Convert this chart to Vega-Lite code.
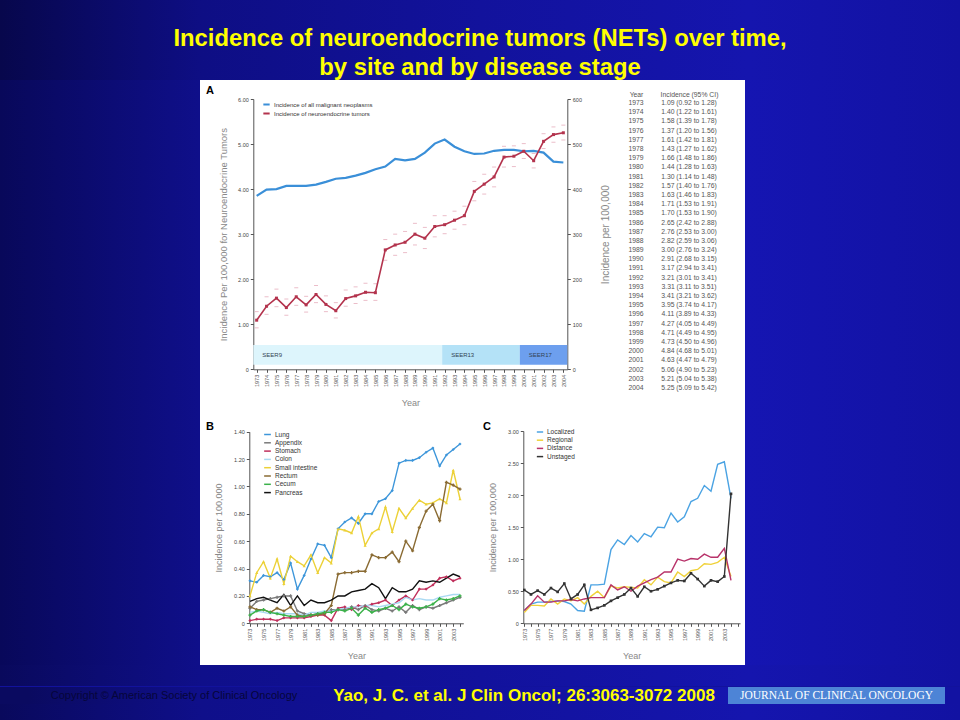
{
"$schema":"https://vega.github.io/schema/vega-lite/v6.json",
"background":"#12129c",
"padding":0,
"config":{"view":{"stroke":null},"font":"Liberation Sans","axis":{"zindex":1,"grid":false,"labelOverlap":false,"labelFlush":false,"domainColor":"#555","tickColor":"#555","labelColor":"#444","titleColor":"#888","titleFontWeight":"normal","labelFont":"Liberation Sans","titleFont":"Liberation Sans"},"legend":{"labelFont":"Liberation Sans","padding":0}},
"datasets":{
"neta":[
{"year":1973,"net":1.09,"lo":0.92,"hi":1.28,"all":385,"ci":"1.09 (0.92 to 1.28)"},
{"year":1974,"net":1.40,"lo":1.22,"hi":1.61,"all":399,"ci":"1.40 (1.22 to 1.61)"},
{"year":1975,"net":1.58,"lo":1.39,"hi":1.78,"all":400,"ci":"1.58 (1.39 to 1.78)"},
{"year":1976,"net":1.37,"lo":1.20,"hi":1.56,"all":407,"ci":"1.37 (1.20 to 1.56)"},
{"year":1977,"net":1.61,"lo":1.42,"hi":1.81,"all":407,"ci":"1.61 (1.42 to 1.81)"},
{"year":1978,"net":1.43,"lo":1.27,"hi":1.62,"all":407,"ci":"1.43 (1.27 to 1.62)"},
{"year":1979,"net":1.66,"lo":1.48,"hi":1.86,"all":410,"ci":"1.66 (1.48 to 1.86)"},
{"year":1980,"net":1.44,"lo":1.28,"hi":1.63,"all":416,"ci":"1.44 (1.28 to 1.63)"},
{"year":1981,"net":1.30,"lo":1.14,"hi":1.48,"all":423,"ci":"1.30 (1.14 to 1.48)"},
{"year":1982,"net":1.57,"lo":1.40,"hi":1.76,"all":425,"ci":"1.57 (1.40 to 1.76)"},
{"year":1983,"net":1.63,"lo":1.46,"hi":1.83,"all":430,"ci":"1.63 (1.46 to 1.83)"},
{"year":1984,"net":1.71,"lo":1.53,"hi":1.91,"all":436,"ci":"1.71 (1.53 to 1.91)"},
{"year":1985,"net":1.70,"lo":1.53,"hi":1.90,"all":444,"ci":"1.70 (1.53 to 1.90)"},
{"year":1986,"net":2.65,"lo":2.42,"hi":2.88,"all":450,"ci":"2.65 (2.42 to 2.88)"},
{"year":1987,"net":2.76,"lo":2.53,"hi":3.00,"all":467,"ci":"2.76 (2.53 to 3.00)"},
{"year":1988,"net":2.82,"lo":2.59,"hi":3.06,"all":464,"ci":"2.82 (2.59 to 3.06)"},
{"year":1989,"net":3.00,"lo":2.76,"hi":3.24,"all":467,"ci":"3.00 (2.76 to 3.24)"},
{"year":1990,"net":2.91,"lo":2.68,"hi":3.15,"all":481,"ci":"2.91 (2.68 to 3.15)"},
{"year":1991,"net":3.17,"lo":2.94,"hi":3.41,"all":501,"ci":"3.17 (2.94 to 3.41)"},
{"year":1992,"net":3.21,"lo":3.01,"hi":3.41,"all":510,"ci":"3.21 (3.01 to 3.41)"},
{"year":1993,"net":3.31,"lo":3.11,"hi":3.51,"all":494,"ci":"3.31 (3.11 to 3.51)"},
{"year":1994,"net":3.41,"lo":3.21,"hi":3.62,"all":484,"ci":"3.41 (3.21 to 3.62)"},
{"year":1995,"net":3.95,"lo":3.74,"hi":4.17,"all":478,"ci":"3.95 (3.74 to 4.17)"},
{"year":1996,"net":4.11,"lo":3.89,"hi":4.33,"all":479,"ci":"4.11 (3.89 to 4.33)"},
{"year":1997,"net":4.27,"lo":4.05,"hi":4.49,"all":485,"ci":"4.27 (4.05 to 4.49)"},
{"year":1998,"net":4.71,"lo":4.49,"hi":4.95,"all":487,"ci":"4.71 (4.49 to 4.95)"},
{"year":1999,"net":4.73,"lo":4.50,"hi":4.96,"all":487,"ci":"4.73 (4.50 to 4.96)"},
{"year":2000,"net":4.84,"lo":4.68,"hi":5.01,"all":484,"ci":"4.84 (4.68 to 5.01)"},
{"year":2001,"net":4.63,"lo":4.47,"hi":4.79,"all":485,"ci":"4.63 (4.47 to 4.79)"},
{"year":2002,"net":5.06,"lo":4.90,"hi":5.23,"all":481,"ci":"5.06 (4.90 to 5.23)"},
{"year":2003,"net":5.21,"lo":5.04,"hi":5.38,"all":461,"ci":"5.21 (5.04 to 5.38)"},
{"year":2004,"net":5.25,"lo":5.09,"hi":5.42,"all":459,"ci":"5.25 (5.09 to 5.42)"}
],
"seer":[
{"name":"SEER9","start":1972.66,"end":1991.75},
{"name":"SEER13","start":1991.75,"end":1999.6},
{"name":"SEER17","start":1999.6,"end":2004.4}
],
"sites":[
{"site":"Lung","year":1973,"rate":0.31},{"site":"Lung","year":1974,"rate":0.30},{"site":"Lung","year":1975,"rate":0.35},{"site":"Lung","year":1976,"rate":0.34},{"site":"Lung","year":1977,"rate":0.37},{"site":"Lung","year":1978,"rate":0.32},{"site":"Lung","year":1979,"rate":0.44},{"site":"Lung","year":1980,"rate":0.25},{"site":"Lung","year":1981,"rate":0.35},{"site":"Lung","year":1982,"rate":0.47},{"site":"Lung","year":1983,"rate":0.58},{"site":"Lung","year":1984,"rate":0.57},{"site":"Lung","year":1985,"rate":0.48},{"site":"Lung","year":1986,"rate":0.69},{"site":"Lung","year":1987,"rate":0.74},{"site":"Lung","year":1988,"rate":0.77},{"site":"Lung","year":1989,"rate":0.73},{"site":"Lung","year":1990,"rate":0.80},{"site":"Lung","year":1991,"rate":0.80},{"site":"Lung","year":1992,"rate":0.89},{"site":"Lung","year":1993,"rate":0.91},{"site":"Lung","year":1994,"rate":0.97},{"site":"Lung","year":1995,"rate":1.17},{"site":"Lung","year":1996,"rate":1.19},{"site":"Lung","year":1997,"rate":1.19},{"site":"Lung","year":1998,"rate":1.21},{"site":"Lung","year":1999,"rate":1.25},{"site":"Lung","year":2000,"rate":1.28},{"site":"Lung","year":2001,"rate":1.15},{"site":"Lung","year":2002,"rate":1.23},{"site":"Lung","year":2003,"rate":1.27},{"site":"Lung","year":2004,"rate":1.31},
{"site":"Appendix","year":1973,"rate":0.11},{"site":"Appendix","year":1974,"rate":0.16},{"site":"Appendix","year":1975,"rate":0.17},{"site":"Appendix","year":1976,"rate":0.18},{"site":"Appendix","year":1977,"rate":0.19},{"site":"Appendix","year":1978,"rate":0.20},{"site":"Appendix","year":1979,"rate":0.20},{"site":"Appendix","year":1980,"rate":0.09},{"site":"Appendix","year":1981,"rate":0.07},{"site":"Appendix","year":1982,"rate":0.06},{"site":"Appendix","year":1983,"rate":0.07},{"site":"Appendix","year":1984,"rate":0.07},{"site":"Appendix","year":1985,"rate":0.10},{"site":"Appendix","year":1986,"rate":0.10},{"site":"Appendix","year":1987,"rate":0.10},{"site":"Appendix","year":1988,"rate":0.12},{"site":"Appendix","year":1989,"rate":0.10},{"site":"Appendix","year":1990,"rate":0.13},{"site":"Appendix","year":1991,"rate":0.10},{"site":"Appendix","year":1992,"rate":0.09},{"site":"Appendix","year":1993,"rate":0.11},{"site":"Appendix","year":1994,"rate":0.09},{"site":"Appendix","year":1995,"rate":0.12},{"site":"Appendix","year":1996,"rate":0.08},{"site":"Appendix","year":1997,"rate":0.13},{"site":"Appendix","year":1998,"rate":0.10},{"site":"Appendix","year":1999,"rate":0.12},{"site":"Appendix","year":2000,"rate":0.11},{"site":"Appendix","year":2001,"rate":0.13},{"site":"Appendix","year":2002,"rate":0.15},{"site":"Appendix","year":2003,"rate":0.17},{"site":"Appendix","year":2004,"rate":0.19},
{"site":"Stomach","year":1973,"rate":0.02},{"site":"Stomach","year":1974,"rate":0.03},{"site":"Stomach","year":1975,"rate":0.03},{"site":"Stomach","year":1976,"rate":0.03},{"site":"Stomach","year":1977,"rate":0.02},{"site":"Stomach","year":1978,"rate":0.04},{"site":"Stomach","year":1979,"rate":0.04},{"site":"Stomach","year":1980,"rate":0.04},{"site":"Stomach","year":1981,"rate":0.04},{"site":"Stomach","year":1982,"rate":0.05},{"site":"Stomach","year":1983,"rate":0.06},{"site":"Stomach","year":1984,"rate":0.06},{"site":"Stomach","year":1985,"rate":0.02},{"site":"Stomach","year":1986,"rate":0.11},{"site":"Stomach","year":1987,"rate":0.12},{"site":"Stomach","year":1988,"rate":0.10},{"site":"Stomach","year":1989,"rate":0.13},{"site":"Stomach","year":1990,"rate":0.12},{"site":"Stomach","year":1991,"rate":0.14},{"site":"Stomach","year":1992,"rate":0.15},{"site":"Stomach","year":1993,"rate":0.17},{"site":"Stomach","year":1994,"rate":0.13},{"site":"Stomach","year":1995,"rate":0.17},{"site":"Stomach","year":1996,"rate":0.20},{"site":"Stomach","year":1997,"rate":0.17},{"site":"Stomach","year":1998,"rate":0.25},{"site":"Stomach","year":1999,"rate":0.25},{"site":"Stomach","year":2000,"rate":0.28},{"site":"Stomach","year":2001,"rate":0.33},{"site":"Stomach","year":2002,"rate":0.34},{"site":"Stomach","year":2003,"rate":0.31},{"site":"Stomach","year":2004,"rate":0.33},
{"site":"Colon","year":1973,"rate":0.08},{"site":"Colon","year":1974,"rate":0.09},{"site":"Colon","year":1975,"rate":0.08},{"site":"Colon","year":1976,"rate":0.07},{"site":"Colon","year":1977,"rate":0.08},{"site":"Colon","year":1978,"rate":0.07},{"site":"Colon","year":1979,"rate":0.07},{"site":"Colon","year":1980,"rate":0.07},{"site":"Colon","year":1981,"rate":0.06},{"site":"Colon","year":1982,"rate":0.08},{"site":"Colon","year":1983,"rate":0.08},{"site":"Colon","year":1984,"rate":0.09},{"site":"Colon","year":1985,"rate":0.09},{"site":"Colon","year":1986,"rate":0.10},{"site":"Colon","year":1987,"rate":0.11},{"site":"Colon","year":1988,"rate":0.12},{"site":"Colon","year":1989,"rate":0.12},{"site":"Colon","year":1990,"rate":0.13},{"site":"Colon","year":1991,"rate":0.13},{"site":"Colon","year":1992,"rate":0.12},{"site":"Colon","year":1993,"rate":0.13},{"site":"Colon","year":1994,"rate":0.14},{"site":"Colon","year":1995,"rate":0.15},{"site":"Colon","year":1996,"rate":0.19},{"site":"Colon","year":1997,"rate":0.17},{"site":"Colon","year":1998,"rate":0.18},{"site":"Colon","year":1999,"rate":0.17},{"site":"Colon","year":2000,"rate":0.17},{"site":"Colon","year":2001,"rate":0.19},{"site":"Colon","year":2002,"rate":0.20},{"site":"Colon","year":2003,"rate":0.21},{"site":"Colon","year":2004,"rate":0.21},
{"site":"Small intestine","year":1973,"rate":0.20},{"site":"Small intestine","year":1974,"rate":0.37},{"site":"Small intestine","year":1975,"rate":0.45},{"site":"Small intestine","year":1976,"rate":0.33},{"site":"Small intestine","year":1977,"rate":0.47},{"site":"Small intestine","year":1978,"rate":0.29},{"site":"Small intestine","year":1979,"rate":0.49},{"site":"Small intestine","year":1980,"rate":0.45},{"site":"Small intestine","year":1981,"rate":0.42},{"site":"Small intestine","year":1982,"rate":0.50},{"site":"Small intestine","year":1983,"rate":0.37},{"site":"Small intestine","year":1984,"rate":0.48},{"site":"Small intestine","year":1985,"rate":0.44},{"site":"Small intestine","year":1986,"rate":0.69},{"site":"Small intestine","year":1987,"rate":0.68},{"site":"Small intestine","year":1988,"rate":0.66},{"site":"Small intestine","year":1989,"rate":0.78},{"site":"Small intestine","year":1990,"rate":0.57},{"site":"Small intestine","year":1991,"rate":0.66},{"site":"Small intestine","year":1992,"rate":0.69},{"site":"Small intestine","year":1993,"rate":0.85},{"site":"Small intestine","year":1994,"rate":0.67},{"site":"Small intestine","year":1995,"rate":0.84},{"site":"Small intestine","year":1996,"rate":0.77},{"site":"Small intestine","year":1997,"rate":0.84},{"site":"Small intestine","year":1998,"rate":0.90},{"site":"Small intestine","year":1999,"rate":0.87},{"site":"Small intestine","year":2000,"rate":0.88},{"site":"Small intestine","year":2001,"rate":0.91},{"site":"Small intestine","year":2002,"rate":0.88},{"site":"Small intestine","year":2003,"rate":1.12},{"site":"Small intestine","year":2004,"rate":0.91},
{"site":"Rectum","year":1973,"rate":0.12},{"site":"Rectum","year":1974,"rate":0.10},{"site":"Rectum","year":1975,"rate":0.10},{"site":"Rectum","year":1976,"rate":0.08},{"site":"Rectum","year":1977,"rate":0.11},{"site":"Rectum","year":1978,"rate":0.09},{"site":"Rectum","year":1979,"rate":0.12},{"site":"Rectum","year":1980,"rate":0.06},{"site":"Rectum","year":1981,"rate":0.05},{"site":"Rectum","year":1982,"rate":0.06},{"site":"Rectum","year":1983,"rate":0.06},{"site":"Rectum","year":1984,"rate":0.07},{"site":"Rectum","year":1985,"rate":0.13},{"site":"Rectum","year":1986,"rate":0.36},{"site":"Rectum","year":1987,"rate":0.37},{"site":"Rectum","year":1988,"rate":0.37},{"site":"Rectum","year":1989,"rate":0.38},{"site":"Rectum","year":1990,"rate":0.38},{"site":"Rectum","year":1991,"rate":0.50},{"site":"Rectum","year":1992,"rate":0.48},{"site":"Rectum","year":1993,"rate":0.48},{"site":"Rectum","year":1994,"rate":0.52},{"site":"Rectum","year":1995,"rate":0.45},{"site":"Rectum","year":1996,"rate":0.60},{"site":"Rectum","year":1997,"rate":0.53},{"site":"Rectum","year":1998,"rate":0.70},{"site":"Rectum","year":1999,"rate":0.82},{"site":"Rectum","year":2000,"rate":0.87},{"site":"Rectum","year":2001,"rate":0.75},{"site":"Rectum","year":2002,"rate":1.03},{"site":"Rectum","year":2003,"rate":1.01},{"site":"Rectum","year":2004,"rate":0.98},
{"site":"Cecum","year":1973,"rate":0.06},{"site":"Cecum","year":1974,"rate":0.09},{"site":"Cecum","year":1975,"rate":0.10},{"site":"Cecum","year":1976,"rate":0.08},{"site":"Cecum","year":1977,"rate":0.07},{"site":"Cecum","year":1978,"rate":0.06},{"site":"Cecum","year":1979,"rate":0.05},{"site":"Cecum","year":1980,"rate":0.05},{"site":"Cecum","year":1981,"rate":0.05},{"site":"Cecum","year":1982,"rate":0.06},{"site":"Cecum","year":1983,"rate":0.07},{"site":"Cecum","year":1984,"rate":0.08},{"site":"Cecum","year":1985,"rate":0.08},{"site":"Cecum","year":1986,"rate":0.10},{"site":"Cecum","year":1987,"rate":0.09},{"site":"Cecum","year":1988,"rate":0.11},{"site":"Cecum","year":1989,"rate":0.06},{"site":"Cecum","year":1990,"rate":0.11},{"site":"Cecum","year":1991,"rate":0.08},{"site":"Cecum","year":1992,"rate":0.10},{"site":"Cecum","year":1993,"rate":0.11},{"site":"Cecum","year":1994,"rate":0.13},{"site":"Cecum","year":1995,"rate":0.10},{"site":"Cecum","year":1996,"rate":0.14},{"site":"Cecum","year":1997,"rate":0.12},{"site":"Cecum","year":1998,"rate":0.11},{"site":"Cecum","year":1999,"rate":0.12},{"site":"Cecum","year":2000,"rate":0.14},{"site":"Cecum","year":2001,"rate":0.18},{"site":"Cecum","year":2002,"rate":0.17},{"site":"Cecum","year":2003,"rate":0.18},{"site":"Cecum","year":2004,"rate":0.20},
{"site":"Pancreas","year":1973,"rate":0.16},{"site":"Pancreas","year":1974,"rate":0.18},{"site":"Pancreas","year":1975,"rate":0.19},{"site":"Pancreas","year":1976,"rate":0.17},{"site":"Pancreas","year":1977,"rate":0.15},{"site":"Pancreas","year":1978,"rate":0.21},{"site":"Pancreas","year":1979,"rate":0.13},{"site":"Pancreas","year":1980,"rate":0.20},{"site":"Pancreas","year":1981,"rate":0.13},{"site":"Pancreas","year":1982,"rate":0.17},{"site":"Pancreas","year":1983,"rate":0.15},{"site":"Pancreas","year":1984,"rate":0.15},{"site":"Pancreas","year":1985,"rate":0.17},{"site":"Pancreas","year":1986,"rate":0.20},{"site":"Pancreas","year":1987,"rate":0.20},{"site":"Pancreas","year":1988,"rate":0.23},{"site":"Pancreas","year":1989,"rate":0.24},{"site":"Pancreas","year":1990,"rate":0.25},{"site":"Pancreas","year":1991,"rate":0.29},{"site":"Pancreas","year":1992,"rate":0.26},{"site":"Pancreas","year":1993,"rate":0.18},{"site":"Pancreas","year":1994,"rate":0.26},{"site":"Pancreas","year":1995,"rate":0.23},{"site":"Pancreas","year":1996,"rate":0.23},{"site":"Pancreas","year":1997,"rate":0.25},{"site":"Pancreas","year":1998,"rate":0.31},{"site":"Pancreas","year":1999,"rate":0.30},{"site":"Pancreas","year":2000,"rate":0.31},{"site":"Pancreas","year":2001,"rate":0.30},{"site":"Pancreas","year":2002,"rate":0.33},{"site":"Pancreas","year":2003,"rate":0.36},{"site":"Pancreas","year":2004,"rate":0.34}
],
"stages":[
{"stage":"Localized","year":1973,"rate":0.20},{"stage":"Localized","year":1974,"rate":0.30},{"stage":"Localized","year":1975,"rate":0.33},{"stage":"Localized","year":1976,"rate":0.33},{"stage":"Localized","year":1977,"rate":0.34},{"stage":"Localized","year":1978,"rate":0.35},{"stage":"Localized","year":1979,"rate":0.34},{"stage":"Localized","year":1980,"rate":0.30},{"stage":"Localized","year":1981,"rate":0.20},{"stage":"Localized","year":1982,"rate":0.19},{"stage":"Localized","year":1983,"rate":0.60},{"stage":"Localized","year":1984,"rate":0.60},{"stage":"Localized","year":1985,"rate":0.61},{"stage":"Localized","year":1986,"rate":1.15},{"stage":"Localized","year":1987,"rate":1.30},{"stage":"Localized","year":1988,"rate":1.23},{"stage":"Localized","year":1989,"rate":1.37},{"stage":"Localized","year":1990,"rate":1.27},{"stage":"Localized","year":1991,"rate":1.40},{"stage":"Localized","year":1992,"rate":1.35},{"stage":"Localized","year":1993,"rate":1.50},{"stage":"Localized","year":1994,"rate":1.49},{"stage":"Localized","year":1995,"rate":1.72},{"stage":"Localized","year":1996,"rate":1.58},{"stage":"Localized","year":1997,"rate":1.66},{"stage":"Localized","year":1998,"rate":1.90},{"stage":"Localized","year":1999,"rate":1.95},{"stage":"Localized","year":2000,"rate":2.15},{"stage":"Localized","year":2001,"rate":2.06},{"stage":"Localized","year":2002,"rate":2.48},{"stage":"Localized","year":2003,"rate":2.52},{"stage":"Localized","year":2004,"rate":1.95},
{"stage":"Regional","year":1973,"rate":0.17},{"stage":"Regional","year":1974,"rate":0.28},{"stage":"Regional","year":1975,"rate":0.28},{"stage":"Regional","year":1976,"rate":0.27},{"stage":"Regional","year":1977,"rate":0.38},{"stage":"Regional","year":1978,"rate":0.30},{"stage":"Regional","year":1979,"rate":0.38},{"stage":"Regional","year":1980,"rate":0.35},{"stage":"Regional","year":1981,"rate":0.40},{"stage":"Regional","year":1982,"rate":0.30},{"stage":"Regional","year":1983,"rate":0.42},{"stage":"Regional","year":1984,"rate":0.50},{"stage":"Regional","year":1985,"rate":0.40},{"stage":"Regional","year":1986,"rate":0.58},{"stage":"Regional","year":1987,"rate":0.55},{"stage":"Regional","year":1988,"rate":0.57},{"stage":"Regional","year":1989,"rate":0.56},{"stage":"Regional","year":1990,"rate":0.55},{"stage":"Regional","year":1991,"rate":0.68},{"stage":"Regional","year":1992,"rate":0.60},{"stage":"Regional","year":1993,"rate":0.72},{"stage":"Regional","year":1994,"rate":0.65},{"stage":"Regional","year":1995,"rate":0.63},{"stage":"Regional","year":1996,"rate":0.80},{"stage":"Regional","year":1997,"rate":0.73},{"stage":"Regional","year":1998,"rate":0.82},{"stage":"Regional","year":1999,"rate":0.84},{"stage":"Regional","year":2000,"rate":0.93},{"stage":"Regional","year":2001,"rate":0.92},{"stage":"Regional","year":2002,"rate":0.95},{"stage":"Regional","year":2003,"rate":1.03},{"stage":"Regional","year":2004,"rate":0.73},
{"stage":"Distance","year":1973,"rate":0.20},{"stage":"Distance","year":1974,"rate":0.30},{"stage":"Distance","year":1975,"rate":0.43},{"stage":"Distance","year":1976,"rate":0.33},{"stage":"Distance","year":1977,"rate":0.33},{"stage":"Distance","year":1978,"rate":0.35},{"stage":"Distance","year":1979,"rate":0.35},{"stage":"Distance","year":1980,"rate":0.37},{"stage":"Distance","year":1981,"rate":0.35},{"stage":"Distance","year":1982,"rate":0.38},{"stage":"Distance","year":1983,"rate":0.40},{"stage":"Distance","year":1984,"rate":0.40},{"stage":"Distance","year":1985,"rate":0.40},{"stage":"Distance","year":1986,"rate":0.60},{"stage":"Distance","year":1987,"rate":0.52},{"stage":"Distance","year":1988,"rate":0.57},{"stage":"Distance","year":1989,"rate":0.50},{"stage":"Distance","year":1990,"rate":0.58},{"stage":"Distance","year":1991,"rate":0.63},{"stage":"Distance","year":1992,"rate":0.68},{"stage":"Distance","year":1993,"rate":0.72},{"stage":"Distance","year":1994,"rate":0.80},{"stage":"Distance","year":1995,"rate":0.80},{"stage":"Distance","year":1996,"rate":1.00},{"stage":"Distance","year":1997,"rate":0.97},{"stage":"Distance","year":1998,"rate":1.01},{"stage":"Distance","year":1999,"rate":1.00},{"stage":"Distance","year":2000,"rate":1.08},{"stage":"Distance","year":2001,"rate":1.03},{"stage":"Distance","year":2002,"rate":1.03},{"stage":"Distance","year":2003,"rate":1.17},{"stage":"Distance","year":2004,"rate":0.67},
{"stage":"Unstaged","year":1973,"rate":0.52},{"stage":"Unstaged","year":1974,"rate":0.45},{"stage":"Unstaged","year":1975,"rate":0.51},{"stage":"Unstaged","year":1976,"rate":0.45},{"stage":"Unstaged","year":1977,"rate":0.55},{"stage":"Unstaged","year":1978,"rate":0.49},{"stage":"Unstaged","year":1979,"rate":0.62},{"stage":"Unstaged","year":1980,"rate":0.38},{"stage":"Unstaged","year":1981,"rate":0.45},{"stage":"Unstaged","year":1982,"rate":0.60},{"stage":"Unstaged","year":1983,"rate":0.21},{"stage":"Unstaged","year":1984,"rate":0.24},{"stage":"Unstaged","year":1985,"rate":0.28},{"stage":"Unstaged","year":1986,"rate":0.35},{"stage":"Unstaged","year":1987,"rate":0.40},{"stage":"Unstaged","year":1988,"rate":0.45},{"stage":"Unstaged","year":1989,"rate":0.55},{"stage":"Unstaged","year":1990,"rate":0.42},{"stage":"Unstaged","year":1991,"rate":0.57},{"stage":"Unstaged","year":1992,"rate":0.50},{"stage":"Unstaged","year":1993,"rate":0.53},{"stage":"Unstaged","year":1994,"rate":0.58},{"stage":"Unstaged","year":1995,"rate":0.63},{"stage":"Unstaged","year":1996,"rate":0.67},{"stage":"Unstaged","year":1997,"rate":0.66},{"stage":"Unstaged","year":1998,"rate":0.78},{"stage":"Unstaged","year":1999,"rate":0.69},{"stage":"Unstaged","year":2000,"rate":0.58},{"stage":"Unstaged","year":2001,"rate":0.67},{"stage":"Unstaged","year":2002,"rate":0.65},{"stage":"Unstaged","year":2003,"rate":0.73},{"stage":"Unstaged","year":2004,"rate":2.02}
]
},
"spacing":0,
"resolve":{"scale":{"color":"independent","shape":"independent","fill":"independent"}},
"vconcat":[
{"width":960,"height":80,"data":{"values":[{}]},
 "layer":[
  {"mark":{"type":"rect","fill":{"gradient":"linear","x1":0,"y1":0,"x2":1,"y2":0,"stops":[{"offset":0,"color":"#07074c"},{"offset":0.21,"color":"#0e0e84"},{"offset":0.5,"color":"#12129c"},{"offset":0.78,"color":"#1515ae"},{"offset":1,"color":"#1212a2"}]}}},
  {"mark":{"type":"text","text":["Incidence of neuroendocrine tumors (NETs) over time,","by site and by disease stage"],"font":"Liberation Sans","fontWeight":"bold","fontSize":23.8,"color":"#ffff00","baseline":"top","lineHeight":29,"dy":-13}}
 ]},
{"hconcat":[
 {"width":200,"height":585,"data":{"values":[{}]},"mark":{"type":"rect","fill":{"gradient":"linear","x1":0,"y1":0,"x2":1,"y2":0,"stops":[{"offset":0,"color":"#08085a"},{"offset":1,"color":"#0f0f8a"}]}}},
 {"vconcat":[
  {"hconcat":[
   {"width":415,"height":330,
    "view":{"fill":"white","stroke":null},
    "title":{"text":"A","anchor":"start","frame":"group","offset":-16,"dx":6,"fontSize":11,"fontWeight":"bold","color":"#000000"},
    "resolve":{"scale":{"y":"independent"},"axis":{"y":"independent"}},
    "layer":[
     {"data":{"name":"neta"},"mark":{"type":"line","strokeWidth":2.2},
      "encoding":{
       "x":{"field":"year","type":"quantitative","scale":{"domain":[1972.66,2004.4],"range":[53.3,367.3],"nice":false,"zero":false},
            "axis":{"orient":"bottom","offset":-40.7,"tickCount":100,"labelOverlap":false,"labelFlush":false,"values":[1973,1974,1975,1976,1977,1978,1979,1980,1981,1982,1983,1984,1985,1986,1987,1988,1989,1990,1991,1992,1993,1994,1995,1996,1997,1998,1999,2000,2001,2002,2003,2004],"format":"d","labelAngle":-90,"labelFontSize":5.5,"labelPadding":2,"tickSize":3,"labelColor":"#555","title":"Year","titleFontSize":9,"titlePadding":12}},
       "y":{"field":"all","type":"quantitative","scale":{"domain":[0,600],"range":[289.3,19],"nice":false,"zero":false},
            "axis":{"orient":"right","offset":-47.7,"tickCount":100,"labelOverlap":false,"values":[0,100,200,300,400,500,600],"labelFontSize":5.5,"labelPadding":2,"tickSize":3,"title":"Incidence per 100,000","titleAngle":270,"titleFontSize":10,"titlePadding":29}},
       "color":{"datum":"Incidence of all malignant neoplasms","type":"nominal","scale":{"domain":["Incidence of all malignant neoplasms","Incidence of neuroendocrine tumors"],"range":["#3a8fd8","#b3334d"]},
            "legend":{"orient":"none","legendX":62,"legendY":20,"title":null,"symbolType":"stroke","symbolStrokeWidth":2,"symbolSize":40,"labelFontSize":6,"labelColor":"#333","rowPadding":-3.3,"labelOffset":3}}
      }},
     {"layer":[
      {"data":{"name":"seer"},"mark":{"type":"rect"},
       "encoding":{
        "x":{"field":"start","type":"quantitative","scale":{"domain":[1972.66,2004.4],"range":[53.3,367.3],"nice":false,"zero":false}},
        "x2":{"field":"end"},
        "y":{"datum":0.1,"type":"quantitative","scale":{"domain":[0,6],"range":[289.3,19],"nice":false,"zero":false}},
        "y2":{"datum":0.54},
        "fill":{"field":"name","type":"nominal","scale":{"domain":["SEER9","SEER13","SEER17"],"range":["#ddf5fc","#b4e2f7","#6d9fee"]},"legend":null}}},
      {"data":{"name":"seer"},"mark":{"type":"text","align":"left","dx":9,"fontSize":6,"color":"#334455"},
       "encoding":{
        "x":{"field":"start","type":"quantitative","scale":{"domain":[1972.66,2004.4],"range":[53.3,367.3],"nice":false,"zero":false}},
        "y":{"datum":0.32,"type":"quantitative","scale":{"domain":[0,6],"range":[289.3,19],"nice":false,"zero":false}},
        "text":{"field":"name"}}},
      {"data":{"name":"neta"},"mark":{"type":"tick","orient":"horizontal","size":4,"thickness":1,"color":"#e3a1b2"},
       "encoding":{
        "x":{"field":"year","type":"quantitative","scale":{"domain":[1972.66,2004.4],"range":[53.3,367.3],"nice":false,"zero":false}},
        "y":{"field":"lo","type":"quantitative","scale":{"domain":[0,6],"range":[289.3,19],"nice":false,"zero":false}}}},
      {"data":{"name":"neta"},"mark":{"type":"tick","orient":"horizontal","size":4,"thickness":1,"color":"#e3a1b2"},
       "encoding":{
        "x":{"field":"year","type":"quantitative","scale":{"domain":[1972.66,2004.4],"range":[53.3,367.3],"nice":false,"zero":false}},
        "y":{"field":"hi","type":"quantitative","scale":{"domain":[0,6],"range":[289.3,19],"nice":false,"zero":false}}}},
      {"data":{"name":"neta"},"mark":{"type":"line","strokeWidth":1.6},
       "encoding":{
        "x":{"field":"year","type":"quantitative","scale":{"domain":[1972.66,2004.4],"range":[53.3,367.3],"nice":false,"zero":false}},
        "y":{"field":"net","type":"quantitative","scale":{"domain":[0,6],"range":[289.3,19],"nice":false,"zero":false},
             "axis":{"orient":"left","offset":-53.3,"tickCount":100,"labelOverlap":false,"values":[0,1,2,3,4,5,6],"labelExpr":"datum.value == 0 ? '0' : format(datum.value, '.2f')","labelFontSize":5.5,"labelPadding":2,"tickSize":3,"title":"Incidence Per 100,000 for Neuroendocrine Tumors","titleFontSize":9.5,"titlePadding":9}},
        "color":{"datum":"Incidence of neuroendocrine tumors","type":"nominal","scale":{"domain":["Incidence of all malignant neoplasms","Incidence of neuroendocrine tumors"],"range":["#3a8fd8","#b3334d"]},"legend":null}}},
      {"data":{"name":"neta"},"mark":{"type":"square","size":9,"color":"#b3334d","opacity":1},
       "encoding":{
        "x":{"field":"year","type":"quantitative","scale":{"domain":[1972.66,2004.4],"range":[53.3,367.3],"nice":false,"zero":false}},
        "y":{"field":"net","type":"quantitative","scale":{"domain":[0,6],"range":[289.3,19],"nice":false,"zero":false}}}}
     ]}
    ]},
   {"width":130,"height":330,
    "view":{"fill":"white","stroke":null},
    "data":{"name":"neta"},
    "layer":[
     {"mark":{"type":"text","fontSize":6.8,"color":"#555555"},
      "encoding":{
       "x":{"datum":"Year","type":"nominal","scale":{"type":"point","domain":["Year","Incidence (95% CI)"],"range":[21,74],"padding":0},
            "axis":{"orient":"top","offset":-19,"labelOverlap":false,"domain":false,"ticks":false,"labelFontSize":6.8,"labelColor":"#555","labelAngle":0,"labelPadding":2,"title":null}},
       "y":{"field":"year","type":"ordinal","scale":{"type":"point","range":[23,308],"padding":0},"axis":null},
       "text":{"field":"year","type":"nominal"}}},
     {"mark":{"type":"text","fontSize":6.8,"color":"#555555"},
      "encoding":{
       "x":{"datum":"Incidence (95% CI)","type":"nominal","scale":{"type":"point","domain":["Year","Incidence (95% CI)"],"range":[21,74],"padding":0}},
       "y":{"field":"year","type":"ordinal","scale":{"type":"point","range":[23,308],"padding":0},"axis":null},
       "text":{"field":"ci","type":"nominal"}}}
    ]}
  ],"spacing":0,"bounds":"flush","resolve":{"scale":{"color":"independent","shape":"independent","fill":"independent"}}},
  {"hconcat":[
   {"width":275,"height":255,
    "view":{"fill":"white","stroke":null},
    "title":{"text":"B","anchor":"start","frame":"group","offset":-22,"dx":6,"fontSize":11,"fontWeight":"bold","color":"#000000"},
    "data":{"name":"sites"},
    "layer":[
     {"mark":{"type":"line","strokeWidth":1.4},
      "encoding":{
       "x":{"field":"year","type":"quantitative","scale":{"domain":[1972.9,2004.49],"range":[49.3,263.3],"nice":false,"zero":false},
            "axis":{"orient":"bottom","offset":-41.7,"tickCount":100,"labelOverlap":false,"labelFlush":false,"values":[1973,1974,1975,1976,1977,1978,1979,1980,1981,1982,1983,1984,1985,1986,1987,1988,1989,1990,1991,1992,1993,1994,1995,1996,1997,1998,1999,2000,2001,2002,2003,2004],"format":"d","labelExpr":"datum.value % 2 == 1 ? datum.label : ''","labelAngle":-90,"labelFontSize":5.5,"labelPadding":2,"tickSize":3,"labelColor":"#555","title":"Year","titleFontSize":9,"titlePadding":11}},
       "y":{"field":"rate","type":"quantitative","scale":{"domain":[0,1.4],"range":[213.3,21.7],"nice":false,"zero":false},
            "axis":{"orient":"left","offset":-49.3,"tickCount":100,"labelOverlap":false,"values":[0,0.2,0.4,0.6,0.8,1.0,1.2,1.4],"labelExpr":"datum.value == 0 ? '0' : format(datum.value, '.2f')","labelFontSize":5.5,"labelPadding":2,"tickSize":3,"title":"Incidence per 100,000","titleFontSize":9,"titlePadding":10}},
       "color":{"field":"site","type":"nominal","scale":{"domain":["Lung","Appendix","Stomach","Colon","Small intestine","Rectum","Cecum","Pancreas"],"range":["#3d96da","#7a7a7a","#c02f5b","#a9d9f2","#ecd137","#8a6b33","#3bb24a","#111111"]},
            "legend":{"orient":"none","legendX":63,"legendY":20,"title":null,"symbolType":"stroke","symbolStrokeWidth":1.5,"symbolSize":45,"labelFontSize":6.5,"labelColor":"#333","rowPadding":0.3,"labelOffset":3}}
      }},
     {"transform":[{"filter":{"field":"site","oneOf":["Lung","Appendix","Stomach","Small intestine","Rectum","Cecum"]}}],
      "mark":{"type":"point","filled":true,"size":10,"opacity":1},
      "encoding":{
       "x":{"field":"year","type":"quantitative","scale":{"domain":[1972.9,2004.49],"range":[49.3,263.3],"nice":false,"zero":false}},
       "y":{"field":"rate","type":"quantitative","scale":{"domain":[0,1.4],"range":[213.3,21.7],"nice":false,"zero":false}},
       "color":{"field":"site","type":"nominal","scale":{"domain":["Lung","Appendix","Stomach","Colon","Small intestine","Rectum","Cecum","Pancreas"],"range":["#3d96da","#7a7a7a","#c02f5b","#a9d9f2","#ecd137","#8a6b33","#3bb24a","#111111"]},"legend":null},
       "shape":{"field":"site","type":"nominal","scale":{"domain":["Lung","Appendix","Stomach","Small intestine","Rectum","Cecum"],"range":["diamond","cross","diamond","triangle-up","cross","cross"]},"legend":null}
      }}
    ]},
   {"width":270,"height":255,
    "view":{"fill":"white","stroke":null},
    "title":{"text":"C","anchor":"start","frame":"group","offset":-22,"dx":8,"fontSize":11,"fontWeight":"bold","color":"#000000"},
    "data":{"name":"stages"},
    "layer":[
     {"mark":{"type":"line","strokeWidth":1.4},
      "encoding":{
       "x":{"field":"year","type":"quantitative","scale":{"domain":[1972.85,2005.35],"range":[48.3,265],"nice":false,"zero":false},
            "axis":{"orient":"bottom","offset":-41.7,"tickCount":100,"labelOverlap":false,"labelFlush":false,"values":[1973,1974,1975,1976,1977,1978,1979,1980,1981,1982,1983,1984,1985,1986,1987,1988,1989,1990,1991,1992,1993,1994,1995,1996,1997,1998,1999,2000,2001,2002,2003,2004,2005],"format":"d","labelExpr":"datum.value % 2 == 1 && datum.value < 2004 ? datum.label : ''","labelAngle":-90,"labelFontSize":5.5,"labelPadding":2,"tickSize":3,"labelColor":"#555","title":"Year","titleFontSize":9,"titlePadding":11}},
       "y":{"field":"rate","type":"quantitative","scale":{"domain":[0,3],"range":[213.3,21],"nice":false,"zero":false},
            "axis":{"orient":"left","offset":-48.3,"tickCount":100,"labelOverlap":false,"values":[0,0.5,1,1.5,2,2.5,3],"labelExpr":"datum.value == 0 ? '0' : format(datum.value, '.2f')","labelFontSize":5.5,"labelPadding":2,"tickSize":3,"title":"Incidence per 100,000","titleFontSize":9,"titlePadding":10}},
       "color":{"field":"stage","type":"nominal","scale":{"domain":["Localized","Regional","Distance","Unstaged"],"range":["#4ba3e3","#f0d23a","#b8336a","#333333"]},
            "legend":{"orient":"none","legendX":61,"legendY":18,"title":null,"symbolType":"stroke","symbolStrokeWidth":1.5,"symbolSize":40,"labelFontSize":6.5,"labelColor":"#333","rowPadding":0.2,"labelOffset":3}}
      }},
     {"transform":[{"filter":{"field":"stage","equal":"Unstaged"}}],
      "mark":{"type":"square","size":7,"color":"#333333","opacity":1},
      "encoding":{
       "x":{"field":"year","type":"quantitative","scale":{"domain":[1972.85,2005.35],"range":[48.3,265],"nice":false,"zero":false}},
       "y":{"field":"rate","type":"quantitative","scale":{"domain":[0,3],"range":[213.3,21],"nice":false,"zero":false}}
      }}
    ]}
  ],"spacing":0,"bounds":"flush","resolve":{"scale":{"color":"independent","shape":"independent","fill":"independent"}}}
 ],"spacing":0,"resolve":{"scale":{"color":"independent","shape":"independent","fill":"independent"}}},
 {"width":215,"height":585,"data":{"values":[{}]},"mark":{"type":"rect","fill":{"gradient":"linear","x1":0,"y1":0,"x2":1,"y2":0,"stops":[{"offset":0,"color":"#1515b2"},{"offset":1,"color":"#1212a2"}]}}}
],"spacing":0,"resolve":{"scale":{"color":"independent","shape":"independent","fill":"independent"}}},
{"vconcat":[
 {"width":960,"height":21,"data":{"values":[{}]},"mark":{"type":"rect","fill":{"gradient":"linear","x1":0,"y1":0,"x2":1,"y2":0,"stops":[{"offset":0,"color":"#09095c"},{"offset":0.21,"color":"#0f0f8a"},{"offset":0.5,"color":"#12129c"},{"offset":0.78,"color":"#1515ae"},{"offset":1,"color":"#1212a2"}]}}},
 {"hconcat":[
  {"width":28,"height":17,"data":{"values":[{}]},"mark":{"type":"rect","fill":"#0a0a60"}},
  {"width":292,"height":17,"data":{"values":[{}]},
   "layer":[
    {"mark":{"type":"rect","fill":{"gradient":"linear","x1":0,"y1":0,"x2":1,"y2":0,"stops":[{"offset":0,"color":"#0a0a60"},{"offset":0.59,"color":"#0f0f8a"},{"offset":1,"color":"#101092"}]}}},
    {"mark":{"type":"text","text":"Copyright © American Society of Clinical Oncology","fontSize":11,"color":"#06063a","font":"Liberation Sans"}}
   ]},
  {"width":408,"height":17,"data":{"values":[{}]},
   "layer":[
    {"mark":{"type":"rect","fill":{"gradient":"linear","x1":0,"y1":0,"x2":1,"y2":0,"stops":[{"offset":0,"color":"#101092"},{"offset":0.39,"color":"#12129c"},{"offset":1,"color":"#1515ae"}]}}},
    {"mark":{"type":"text","text":"Yao, J. C. et al. J Clin Oncol; 26:3063-3072 2008","fontSize":17,"fontWeight":"bold","color":"#ffff00","font":"Liberation Sans"}}
   ]},
  {"width":217,"height":17,"view":{"fill":"#4d84d6","stroke":null},"data":{"values":[{}]},"mark":{"type":"text","text":"JOURNAL OF CLINICAL ONCOLOGY","fontSize":11.5,"color":"#ffffff","font":"Liberation Serif"}},
  {"width":15,"height":17,"data":{"values":[{}]},"mark":{"type":"rect","fill":"#1212a2"}}
 ],"spacing":0,"bounds":"flush"},
 {"width":960,"height":17,"data":{"values":[{}]},"mark":{"type":"rect","fill":{"gradient":"linear","x1":0,"y1":0,"x2":1,"y2":0,"stops":[{"offset":0,"color":"#09095c"},{"offset":0.21,"color":"#0f0f8a"},{"offset":0.5,"color":"#12129c"},{"offset":0.78,"color":"#1515ae"},{"offset":1,"color":"#1212a2"}]}}}
],"spacing":0}
]
}
